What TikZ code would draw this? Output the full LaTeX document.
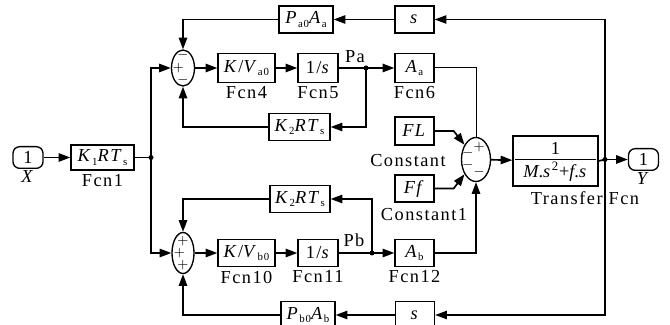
\documentclass[tikz,border=0pt]{standalone}
\usepackage{fontspec}
\setmainfont{Liberation Serif}
\newfontfamily\spacedfont[LetterSpace=8]{Liberation Serif}
\usepackage{tikz}
\usetikzlibrary{arrows.meta,positioning,shapes.geometric}
\newcommand{\lblsize}{\spacedfont\fontsize{11}{12}\selectfont}
\newcommand{\sgnsize}{\fontsize{8.5}{8.5}\selectfont}
\newcommand{\sbs}[1]{\raisebox{-0.4ex}{\fontsize{6.5}{6.5}\selectfont #1}}
\newcommand{\vi}[1]{\textit{#1}}
\tikzset{
  blk/.style={draw, rectangle, line width=0.8pt, inner sep=1pt, font=\lblsize, fill=white},
  port/.style={draw, rectangle, rounded corners=4pt, line width=0.8pt, inner sep=0pt, font=\lblsize, minimum width=18pt, minimum height=13pt},
  sumnode/.style={draw, ellipse, line width=0.8pt, inner sep=0pt},
  sgn/.style={font=\sgnsize, inner sep=0pt},
  lbl/.style={font=\lblsize, inner sep=1pt},
  arr/.style={-{Triangle[length=7pt, width=5pt]}, line width=1pt},
  ln/.style={line width=1pt},
  tln/.style={line width=0.6pt},
  jdot/.style={circle, fill, inner sep=0pt, minimum size=3pt},
}
\begin{document}
\begin{tikzpicture}[x=0.6pt, y=-0.6pt, node distance=1pt]
\useasboundingbox (0,0) rectangle (670,325);
\node[port] (xin) at (28,157.5) {1};
\node[lbl, below=-0.5pt of xin] {\vi{X}};
\node[blk, minimum width=37.8pt, minimum height=15pt] (fcnone) at (102.5,157.5) {\vi{K}\sbs{1}\vi{RT}\sbs{s}};
\node[lbl, below=of fcnone] {Fcn1};
\coordinate (br1) at (151,157.5);
\node[sumnode, minimum width=13.8pt, minimum height=21.6pt] (sa) at (183,68) {};
\node[sgn] at (183,55.5) {$-$};
\node[sgn] at (178.5,68) {$+$};
\node[sgn] at (183,80.5) {$-$};
\node[sumnode, minimum width=13.2pt, minimum height=24.6pt] (sb) at (183,253) {};
\node[sgn] at (183,241) {$+$};
\node[sgn] at (179.5,253) {$+$};
\node[sgn] at (183,265) {$+$};
\node[blk, minimum width=34.2pt, minimum height=17.4pt] (fcnfour) at (246.5,68) {\vi{K}/\vi{V}\sbs{a0}};
\node[lbl, below=of fcnfour] {Fcn4};
\node[blk, minimum width=24pt, minimum height=17.4pt] (fcnfive) at (318,68) {1/\vi{s}};
\node[lbl, below=of fcnfive] {Fcn5};
\coordinate (pa) at (366,68);
\node[lbl] at (355,57) {Pa};
\node[blk, minimum width=23.4pt, minimum height=17.4pt] (fcnsix) at (414.5,68) {\vi{A}\sbs{a}};
\node[lbl, below=of fcnsix] {Fcn6};
\node[blk, minimum width=32.4pt, minimum height=16.2pt] (pao) at (306,19.5) {\vi{P}\sbs{a0}\vi{A}\sbs{a}};
\node[blk, minimum width=23.4pt, minimum height=16.2pt] (stop) at (414.5,19.5) {\vi{s}};
\node[blk, minimum width=36.6pt, minimum height=16.2pt] (kta) at (299.5,127) {\vi{K}\sbs{2}\vi{RT}\sbs{s}};
\node[blk, minimum width=36pt, minimum height=16.2pt] (ktb) at (300,199) {\vi{K}\sbs{2}\vi{RT}\sbs{s}};
\node[blk, minimum width=34.2pt, minimum height=16.2pt] (fcnten) at (246.5,253) {\vi{K}/\vi{V}\sbs{b0}};
\node[lbl, below=of fcnten] {Fcn10};
\node[blk, minimum width=24pt, minimum height=16.2pt] (fcneleven) at (318,253) {1/\vi{s}};
\node[lbl, below=of fcneleven] {Fcn11};
\coordinate (pb) at (372,253);
\node[lbl] at (354,240) {Pb};
\node[blk, minimum width=23.4pt, minimum height=16.2pt] (fcntwelve) at (414.5,253) {\vi{A}\sbs{b}};
\node[lbl, below=of fcntwelve] {Fcn12};
\node[blk, minimum width=23.4pt, minimum height=16.8pt] (fl) at (414.5,131) {\vi{FL}};
\node[lbl] at (408,161) {Constant};
\node[blk, minimum width=23.4pt, minimum height=16.2pt] (ff) at (414.5,188.5) {\vi{Ff}};
\node[lbl] at (424,215) {Constant1};
\node[sumnode, minimum width=17.4pt, minimum height=26.4pt] (sc) at (476,159.5) {};
\node[sgn] at (479,147.5) {$+$};
\node[sgn] at (468,153.5) {$-$};
\node[sgn] at (468,165) {$-$};
\node[sgn] at (479,172) {$-$};
\node[blk, minimum width=51pt, minimum height=30pt] (tf) at (555.5,161) {};
\node[lbl] at (555.5,148) {1};
\node[lbl] at (555.5,172) {\vi{M}.\vi{s}\textsuperscript{2}+\vi{f}.\vi{s}};
\draw[line width=0.6pt] (515,160) -- (596,160);
\node[lbl] at (585,198) {Transfer Fcn};
\coordinate (py) at (605,159.5);
\node[port] (yout) at (643.5,159.5) {1};
\node[lbl, below=-0.5pt of yout] {\vi{Y}};
\node[blk, minimum width=23.4pt, minimum height=16.2pt] (sbot) at (415,315) {\vi{s}};
\node[blk, minimum width=32.4pt, minimum height=16.2pt] (pbo) at (308,315) {\vi{P}\sbs{b0}\vi{A}\sbs{b}};
\draw[arr] (xin) -- (fcnone);
\draw[tln] (fcnone.east) -- (br1);
\draw[arr] (br1) |- (sa.west);
\draw[arr] (br1) |- (sb.west);
\draw[arr] (sa) -- (fcnfour);
\draw[arr] (fcnfour) -- (fcnfive);
\draw[ln] (fcnfive.east) -- (pa);
\draw[arr] (pa) -- (fcnsix.west);
\draw[arr] (pa) |- (kta.east);
\draw[arr] (kta.west) -| (sa.south);
\draw[arr] (stop) -- (pao);
\draw[arr] (pao.west) -| (sa.north);
\draw[arr] (sb) -- (fcnten);
\draw[arr] (fcnten) -- (fcneleven);
\draw[ln] (fcneleven.east) -- (pb);
\draw[arr] (pb) -- (fcntwelve.west);
\draw[arr] (pb) |- (ktb.east);
\draw[arr] (ktb.west) -| (sb.north);
\draw[arr] (sbot) -- (pbo);
\draw[arr] (pbo.west) -| (sb.south);
\draw[tln] (fcnsix.east) -| (sc.north);
\draw[arr] (fl.east) -- ++(19,0) -- (sc.128);
\draw[arr] (ff.east) -- ++(19,0) -- (sc.232);
\draw[arr] (fcntwelve.east) -| (sc.south);
\draw[arr] (sc) -- (tf);
\draw[ln] (tf.east) -- (py);
\draw[arr] (py) -- (yout.west);
\draw[arr, line width=0.7pt] (py) |- (stop.east);
\draw[arr, line width=0.7pt] (py) |- (sbot.east);
\node[jdot] at (br1) {};
\node[jdot] at (pa) {};
\node[jdot] at (pb) {};
\node[jdot] at (py) {};
\end{tikzpicture}
\end{document}
